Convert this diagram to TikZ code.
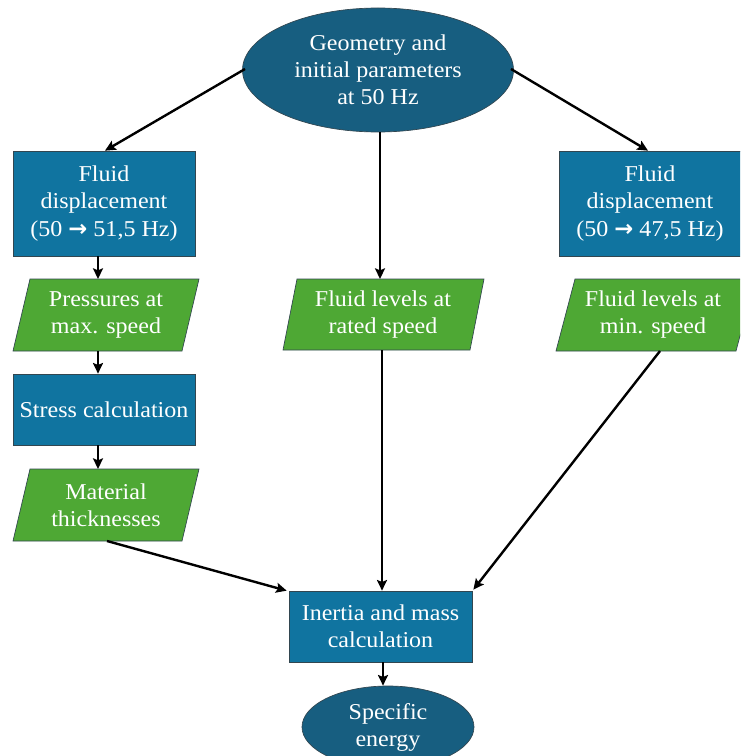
\documentclass[tikz,border=0pt]{standalone}
\usepackage{fontspec}
\setmainfont[FakeStretch=1.06]{Liberation Serif}
\newfontfamily\symfont{DejaVu Sans}
\usetikzlibrary{shapes.geometric,arrows.meta,calc}
\definecolor{ellblue}{RGB}{23,94,128}
\definecolor{boxblue}{RGB}{16,116,160}
\definecolor{dataGreen}{RGB}{78,168,52}
\definecolor{edgeGray}{RGB}{50,70,80}
\newcommand{\rarr}{{\symfont\bfseries\char"2192}}
\begin{document}
\begin{tikzpicture}[x=0.75pt,y=-0.75pt,
  every node/.style={font=\fontsize{17}{20.3}\selectfont, text=white, align=center, inner sep=0pt},
  procbox/.style={rectangle, fill=boxblue, draw=edgeGray, line width=0.5pt},
  termell/.style={ellipse, fill=ellblue, draw=edgeGray, line width=0.5pt},
  datafill/.style={fill=dataGreen, draw=edgeGray, line width=0.5pt},
  arr/.style={-{Stealth[length=8pt,width=7.5pt,inset=1.5pt]}, line width=1.8pt, black}]
\useasboundingbox (0,0) rectangle (740,756);
\clip (0,0) rectangle (740,756);
\fill[white] (0,0) rectangle (740,756);

% top ellipse
\node[termell, minimum width=271*0.75pt, minimum height=124*0.75pt] (geo) at (378,70) {Geometry and\\initial parameters\\at 50 Hz};

% left column
\node[procbox, minimum width=182*0.75pt, minimum height=105*0.75pt] (fdl) at (104,203.5) {Fluid\\displacement\\(50 \rarr\ 51,5 Hz)};
\path[datafill] (13,351) -- (182,351) -- (199,279) -- (30,279) -- cycle;
\node (pm) at (106,315) {Pressures at\\max. speed};
\node[procbox, minimum width=182*0.75pt, minimum height=71*0.75pt] (sc) at (104,409.5) {Stress calculation};
\path[datafill] (13,541) -- (182,541) -- (199,469) -- (30,469) -- cycle;
\node (mt) at (106,505) {Material\\thicknesses};

% middle column
\path[datafill] (283,350) -- (470,350) -- (484,279) -- (297,279) -- cycle;
\node (fr) at (383,315) {Fluid levels at\\rated speed};

% right column
\node[procbox, minimum width=182*0.75pt, minimum height=105*0.75pt] (fdr) at (650,203.5) {Fluid\\displacement\\(50 \rarr\ 47,5 Hz)};
\path[datafill] (556,351) -- (736,351) -- (755,279) -- (575,279) -- cycle;
\node (fm) at (653,315) {Fluid levels at\\min. speed};

% bottom
\node[procbox, minimum width=183*0.75pt, minimum height=71*0.75pt] (im) at (380.5,626.5) {Inertia and mass\\calculation};
\node[termell, minimum width=172*0.75pt, minimum height=82*0.75pt] (se) at (388,727) {Specific\\energy};

% connectors
\coordinate (geoL) at (245,69);
\coordinate (geoR) at (511,69);
\draw[arr] (geoL) -- (fdl.north -| 105,0);
\draw[arr] (geoR) -- (fdr.north -| 648,0);
\draw[arr] (geo.south -| 380,0) -- (380,279);
\draw[arr] (fdl.south -| 98,0) -- (98,279);
\draw[arr] (98,351) -- (sc.north -| 98,0);
\draw[arr] (sc.south -| 98,0) -- (98,469);
\draw[arr] (107,541) -- ($(im.north west)+(-2,0)$);
\draw[arr] (382,350) -- (im.north -| 382,0);
\draw[arr] (660,351) -- ($(im.north east)+(1,-1)$);
\draw[arr] (im.south -| 383,0) -- (se.north -| 383,0);
\end{tikzpicture}
\end{document}
